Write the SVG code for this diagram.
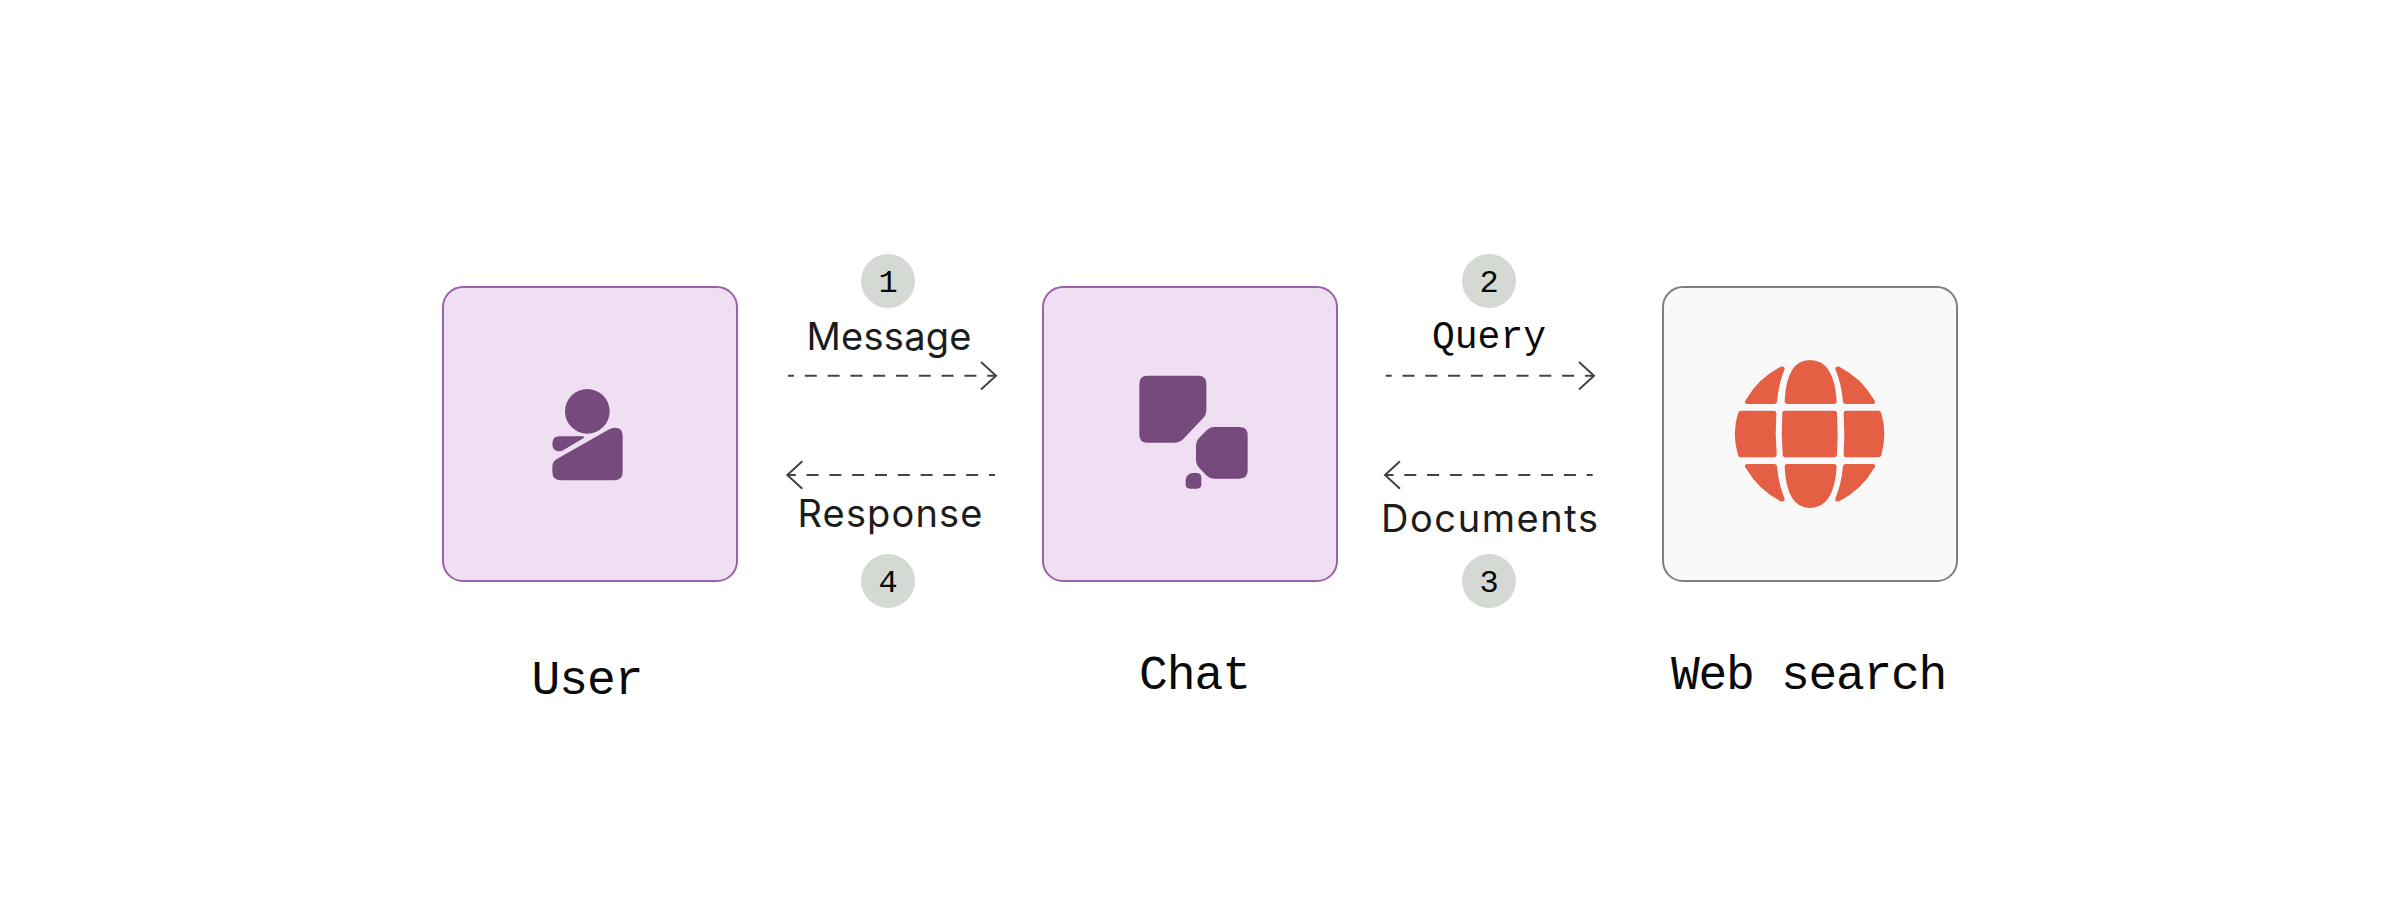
<svg xmlns="http://www.w3.org/2000/svg" width="2400" height="900" viewBox="0 0 2400 900">
<style>
.purple{fill:#f0dff2;stroke:#9b62a8;stroke-width:2}
.grey{fill:#f9f9f9;stroke:#808080;stroke-width:2}
.icon{fill:#764a7c}
.globe{fill:#e45f43}
.badge{fill:#d4d9d4}
.mono{font-family:"Liberation Mono","DejaVu Sans Mono",monospace;fill:#0a0a0a;text-anchor:middle}
.sans{font-family:Inter,"Liberation Sans",sans-serif;fill:#1c1c1c;text-anchor:middle;font-size:38px}
.name{font-size:48px;letter-spacing:-1px}
.num{font-size:32px}
.conn{fill:none;stroke:#444;stroke-width:2;stroke-dasharray:12 10.8;stroke-dashoffset:6}
.head{fill:none;stroke:#444;stroke-width:2}
</style>
<defs>
<marker id="chev" markerUnits="userSpaceOnUse" markerWidth="40" markerHeight="40" refX="20" refY="20" orient="auto" viewBox="0 0 40 40">
<path class="head" d="M5 6.3L20 20L5 33.7"/>
</marker>
</defs>
<g id="connectors">
<path class="conn" d="M788 375.7H996" marker-end="url(#chev)"/>
<path class="conn" d="M995 475H787.3" marker-end="url(#chev)"/>
<path class="conn" d="M1385.7 375.7H1594" marker-end="url(#chev)"/>
<path class="conn" d="M1592.7 475H1385" marker-end="url(#chev)"/>
</g>
<g id="node-user">
<rect class="purple" x="443" y="287" width="294" height="294" rx="20"/>
<g transform="translate(420 270) scale(.33333)">
<circle class="icon" cx="502" cy="424" r="67"/>
<path class="icon" d="M412 566L565 479Q575 473 585 473Q608 473 608 497V605Q608 631 582 631H423Q397 631 397 605V590Q397 574 412 566Z"/>
<path class="icon" d="M418 499H488Q496 500 490 505L432 539Q425 544 418 544Q397 544 397 521Q397 499 418 499Z"/>
</g>
<text class="mono name" x="587" y="694">User</text>
</g>
<g id="node-chat">
<rect class="purple" x="1043" y="287" width="294" height="294" rx="20"/>
<g transform="translate(1030 270) scale(.33333)">
<path class="icon" d="M352 317H505Q529 317 529 341V420Q529 435 519 445L462 505Q450 518 435 518H352Q328 518 328 494V341Q328 317 352 317Z"/>
<path class="icon" d="M552 471H628Q653 471 653 496V601Q653 626 628 626H552Q540 626 530 617L508 594Q498 584 498 570V527Q498 513 508 503L530 481Q540 471 552 471Z"/>
<path class="icon" d="M490 609H500Q514 609 514 623V643Q514 656 501 656H480Q467 656 467 643V630Q467 622 473 616L478 612Q482 609 490 609Z"/>
</g>
<text class="mono name" x="1194.5" y="689">Chat</text>
</g>
<g id="node-web-search">
<rect class="grey" x="1663" y="287" width="294" height="294" rx="20"/>
<g transform="translate(1650 270) scale(.33333)">
<path class="globe" d="M404 392Q410 270 480 270Q552 270 560 392Q560 402 551 402H413Q403 402 404 392Z"/>
<path class="globe" d="M290 386Q325 325 392 290Q405 287 404 298Q386 340 381 395Q380 402 372 402H293Q280 402 287 390Z"/>
<path class="globe" d="M670 386Q635 325 568 290Q555 287 556 298Q574 340 579 395Q580 402 588 402H667Q680 402 673 390Z"/>
<path class="globe" d="M272 422H372Q379 422 379 430Q375 490 380 553Q380 562 372 562H272Q266 562 264 556Q245 490 264 430Q266 422 272 422Z"/>
<path class="globe" d="M403 422H553Q561 422 561 430Q565 490 561 553Q561 562 553 562H405Q398 562 398 553Q393 490 397 430Q397 422 403 422Z"/>
<path class="globe" d="M588 422H686Q692 422 694 430Q712 490 694 556Q692 562 686 562H588Q581 562 581 553Q585 490 581 430Q581 422 588 422Z"/>
<path class="globe" d="M404 592Q410 714 480 714Q552 714 560 592Q560 582 551 582H413Q403 582 404 592Z"/>
<path class="globe" d="M290 598Q325 659 392 694Q405 697 404 686Q386 644 381 589Q380 582 372 582H293Q280 582 287 594Z"/>
<path class="globe" d="M670 598Q635 659 568 694Q555 697 556 686Q574 644 579 589Q580 582 588 582H667Q680 582 673 594Z"/>
</g>
<text class="mono name" style="letter-spacing:-1.3px" x="1808.5" y="689">Web search</text>
</g>
<g id="step-1"><circle class="badge" cx="888" cy="281" r="27"/><text class="mono num" x="888" y="292">1</text></g>
<g id="step-2"><circle class="badge" cx="1489" cy="281" r="27"/><text class="mono num" x="1489" y="292">2</text></g>
<g id="step-3"><circle class="badge" cx="1489" cy="581" r="27"/><text class="mono num" x="1489" y="592">3</text></g>
<g id="step-4"><circle class="badge" cx="888" cy="581" r="27"/><text class="mono num" x="888" y="592">4</text></g>
<g id="labels">
<text class="sans" x="889" y="350" textLength="165">Message</text>
<text class="sans" x="890" y="527" textLength="185">Response</text>
<text class="mono" style="font-size:38px" x="1489" y="348">Query</text>
<text class="sans" x="1489.5" y="532" textLength="217">Documents</text>
</g>
</svg>
